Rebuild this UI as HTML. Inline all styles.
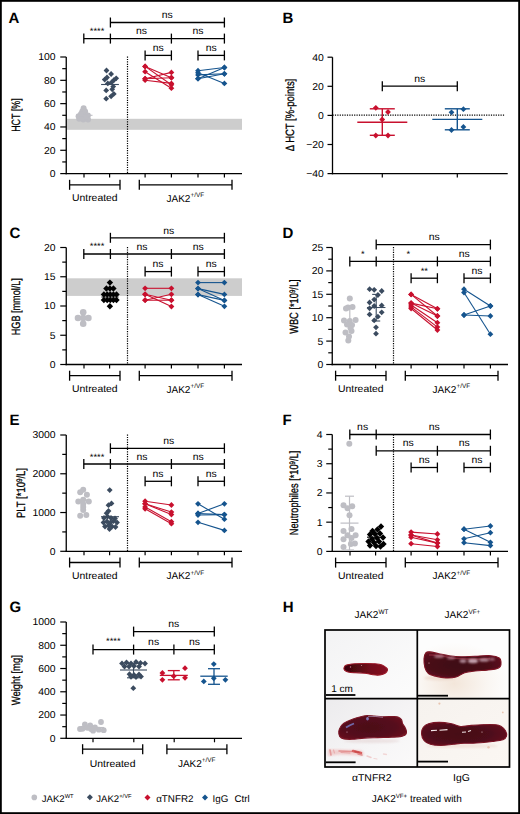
<!DOCTYPE html>
<html><head><meta charset="utf-8"><style>
html,body{margin:0;padding:0;background:#fff;}
body{width:520px;height:814px;overflow:hidden;}
svg{display:block;font-family:"Liberation Sans", sans-serif;text-rendering:geometricPrecision;}
</style></head><body>
<svg width="520" height="814" viewBox="0 0 520 814">
<rect x="0" y="0" width="520" height="814" fill="#fff"/>
<text transform="translate(8.6,22.6) scale(1.0,1)" font-size="15" font-weight="bold" fill="#000" >A</text>
<rect x="66.85" y="118.8" width="175.15" height="11" fill="#cdcdcd"/>
<line x1="66.25" y1="57" x2="66.25" y2="174.25" stroke="#000" stroke-width="1.3" />
<line x1="60.25" y1="173.6" x2="66.25" y2="173.6" stroke="#000" stroke-width="1.2" />
<line x1="60.25" y1="150.28" x2="66.25" y2="150.28" stroke="#000" stroke-width="1.2" />
<line x1="60.25" y1="126.96" x2="66.25" y2="126.96" stroke="#000" stroke-width="1.2" />
<line x1="60.25" y1="103.64" x2="66.25" y2="103.64" stroke="#000" stroke-width="1.2" />
<line x1="60.25" y1="80.32" x2="66.25" y2="80.32" stroke="#000" stroke-width="1.2" />
<line x1="60.25" y1="57" x2="66.25" y2="57" stroke="#000" stroke-width="1.2" />
<line x1="62.25" y1="161.94" x2="66.25" y2="161.94" stroke="#000" stroke-width="1.2" />
<line x1="62.25" y1="138.62" x2="66.25" y2="138.62" stroke="#000" stroke-width="1.2" />
<line x1="62.25" y1="115.3" x2="66.25" y2="115.3" stroke="#000" stroke-width="1.2" />
<line x1="62.25" y1="91.98" x2="66.25" y2="91.98" stroke="#000" stroke-width="1.2" />
<line x1="62.25" y1="68.66" x2="66.25" y2="68.66" stroke="#000" stroke-width="1.2" />
<text transform="translate(55.6,177) scale(1.04,1)" font-size="10" text-anchor="end" fill="#000" >0</text>
<text transform="translate(55.6,153.68) scale(1.04,1)" font-size="10" text-anchor="end" fill="#000" >20</text>
<text transform="translate(55.6,130.36) scale(1.04,1)" font-size="10" text-anchor="end" fill="#000" >40</text>
<text transform="translate(55.6,107.04) scale(1.04,1)" font-size="10" text-anchor="end" fill="#000" >60</text>
<text transform="translate(55.6,83.72) scale(1.04,1)" font-size="10" text-anchor="end" fill="#000" >80</text>
<text transform="translate(55.6,60.4) scale(1.04,1)" font-size="10" text-anchor="end" fill="#000" >100</text>
<line x1="65.6" y1="173.6" x2="242" y2="173.6" stroke="#000" stroke-width="1.3" />
<line x1="84" y1="173.6" x2="84" y2="177.6" stroke="#000" stroke-width="1.2" />
<line x1="109.6" y1="173.6" x2="109.6" y2="177.6" stroke="#000" stroke-width="1.2" />
<line x1="145.1" y1="173.6" x2="145.1" y2="177.6" stroke="#000" stroke-width="1.2" />
<line x1="171.4" y1="173.6" x2="171.4" y2="177.6" stroke="#000" stroke-width="1.2" />
<line x1="198" y1="173.6" x2="198" y2="177.6" stroke="#000" stroke-width="1.2" />
<line x1="224.4" y1="173.6" x2="224.4" y2="177.6" stroke="#000" stroke-width="1.2" />
<line x1="127.5" y1="56.5" x2="127.5" y2="173.6" stroke="#000" stroke-width="1.2" stroke-dasharray="1.2 1.2"/>
<line x1="69.6" y1="184.8" x2="120" y2="184.8" stroke="#000" stroke-width="1.3" />
<line x1="69.6" y1="179.8" x2="69.6" y2="189.8" stroke="#000" stroke-width="1.3" />
<line x1="120" y1="179.8" x2="120" y2="189.8" stroke="#000" stroke-width="1.3" />
<line x1="139.3" y1="184.8" x2="232" y2="184.8" stroke="#000" stroke-width="1.3" />
<line x1="139.3" y1="179.8" x2="139.3" y2="189.8" stroke="#000" stroke-width="1.3" />
<line x1="232" y1="179.8" x2="232" y2="189.8" stroke="#000" stroke-width="1.3" />
<text transform="translate(94.8,201.4) scale(1.04,1)" font-size="10" text-anchor="middle" fill="#000" >Untreated</text>
<text transform="translate(166.5,201.6) scale(1.0,1)" font-size="10">JAK2<tspan font-size="6.4" dy="-4.2">+/VF</tspan></text>
<text transform="translate(19.8,115.1) rotate(-90)" x="0" y="0" font-size="12" text-anchor="middle" textLength="33.4" lengthAdjust="spacingAndGlyphs" stroke="#000" stroke-width="0.28">HCT [%]</text>
<line x1="110.4" y1="22.5" x2="224.4" y2="22.5" stroke="#000" stroke-width="1.3" />
<line x1="110.4" y1="17.5" x2="110.4" y2="27.5" stroke="#000" stroke-width="1.3" />
<line x1="224.4" y1="17.5" x2="224.4" y2="27.5" stroke="#000" stroke-width="1.3" />
<line x1="83.8" y1="38.6" x2="224.4" y2="38.6" stroke="#000" stroke-width="1.3" />
<line x1="83.8" y1="33.6" x2="83.8" y2="43.6" stroke="#000" stroke-width="1.3" />
<line x1="110.4" y1="33.6" x2="110.4" y2="43.6" stroke="#000" stroke-width="1.3" />
<line x1="171.4" y1="33.6" x2="171.4" y2="43.6" stroke="#000" stroke-width="1.3" />
<line x1="224.4" y1="33.6" x2="224.4" y2="43.6" stroke="#000" stroke-width="1.3" />
<line x1="145.1" y1="55.4" x2="171.4" y2="55.4" stroke="#000" stroke-width="1.3" />
<line x1="145.1" y1="50.4" x2="145.1" y2="60.4" stroke="#000" stroke-width="1.3" />
<line x1="171.4" y1="50.4" x2="171.4" y2="60.4" stroke="#000" stroke-width="1.3" />
<line x1="198" y1="55.4" x2="224.4" y2="55.4" stroke="#000" stroke-width="1.3" />
<line x1="198" y1="50.4" x2="198" y2="60.4" stroke="#000" stroke-width="1.3" />
<line x1="224.4" y1="50.4" x2="224.4" y2="60.4" stroke="#000" stroke-width="1.3" />
<text transform="translate(167.3,17.8) scale(1.04,1)" font-size="10" text-anchor="middle" fill="#000" >ns</text>
<text transform="translate(97.1,33.9) scale(1.04,1)" font-size="9" text-anchor="middle" fill="#000" >****</text>
<text transform="translate(141.5,34.2) scale(1.04,1)" font-size="10" text-anchor="middle" fill="#000" >ns</text>
<text transform="translate(198,34.2) scale(1.04,1)" font-size="10" text-anchor="middle" fill="#000" >ns</text>
<text transform="translate(158.3,50.9) scale(1.04,1)" font-size="10" text-anchor="middle" fill="#000" >ns</text>
<text transform="translate(211.2,50.9) scale(1.04,1)" font-size="10" text-anchor="middle" fill="#000" >ns</text>
<circle cx="83.6" cy="108.2" r="3.0" fill="#bebec4"/>
<circle cx="82.3" cy="111.6" r="3.0" fill="#bebec4"/>
<circle cx="85.1" cy="111.4" r="3.0" fill="#bebec4"/>
<circle cx="78.6" cy="116.2" r="3.0" fill="#bebec4"/>
<circle cx="83" cy="115.2" r="3.0" fill="#bebec4"/>
<circle cx="87.9" cy="115.6" r="3.0" fill="#bebec4"/>
<circle cx="79.2" cy="118.8" r="3.0" fill="#bebec4"/>
<circle cx="83.2" cy="119.6" r="3.0" fill="#bebec4"/>
<circle cx="88" cy="119.4" r="3.0" fill="#bebec4"/>
<circle cx="81" cy="114" r="3.0" fill="#bebec4"/>
<circle cx="86" cy="117" r="3.0" fill="#bebec4"/>
<line x1="76" y1="115.3" x2="92.5" y2="115.3" stroke="#bebec4" stroke-width="1.1" />
<path d="M106.5 67.6L109.4 70.5L106.5 73.4L103.6 70.5Z" fill="#3b4b5f"/>
<path d="M111.1 71.1L114 74L111.1 76.9L108.2 74Z" fill="#3b4b5f"/>
<path d="M104.7 76.7L107.6 79.6L104.7 82.5L101.8 79.6Z" fill="#3b4b5f"/>
<path d="M107 74.6L109.9 77.5L107 80.4L104.1 77.5Z" fill="#3b4b5f"/>
<path d="M116.2 75.4L119.1 78.3L116.2 81.2L113.3 78.3Z" fill="#3b4b5f"/>
<path d="M113.8 77.3L116.7 80.2L113.8 83.1L110.9 80.2Z" fill="#3b4b5f"/>
<path d="M111.6 79.4L114.5 82.3L111.6 85.2L108.7 82.3Z" fill="#3b4b5f"/>
<path d="M107.8 80.5L110.7 83.4L107.8 86.3L104.9 83.4Z" fill="#3b4b5f"/>
<path d="M113.2 83.7L116.1 86.6L113.2 89.5L110.3 86.6Z" fill="#3b4b5f"/>
<path d="M106.2 87.5L109.1 90.4L106.2 93.3L103.3 90.4Z" fill="#3b4b5f"/>
<path d="M112.2 86.4L115.1 89.3L112.2 92.2L109.3 89.3Z" fill="#3b4b5f"/>
<path d="M113.8 91L116.7 93.9L113.8 96.8L110.9 93.9Z" fill="#3b4b5f"/>
<path d="M111.1 93.4L114 96.3L111.1 99.2L108.2 96.3Z" fill="#3b4b5f"/>
<path d="M106.2 95.8L109.1 98.7L106.2 101.6L103.3 98.7Z" fill="#3b4b5f"/>
<line x1="101.1" y1="84.5" x2="118.9" y2="84.5" stroke="#3b4b5f" stroke-width="1.1" />
<line x1="145.1" y1="66.4" x2="171.4" y2="77.7" stroke="#c8102e" stroke-width="1.1" />
<line x1="145.1" y1="71.7" x2="171.4" y2="88.2" stroke="#c8102e" stroke-width="1.1" />
<line x1="145.1" y1="78.7" x2="171.4" y2="72.4" stroke="#c8102e" stroke-width="1.1" />
<line x1="145.1" y1="80.2" x2="171.4" y2="83.4" stroke="#c8102e" stroke-width="1.1" />
<line x1="145.1" y1="66.4" x2="171.4" y2="84.8" stroke="#c8102e" stroke-width="1.1" />
<line x1="145.1" y1="78.7" x2="171.4" y2="77.7" stroke="#c8102e" stroke-width="1.1" />
<path d="M145.1 63.5L148 66.4L145.1 69.3L142.2 66.4Z" fill="#c8102e"/>
<path d="M171.4 74.8L174.3 77.7L171.4 80.6L168.5 77.7Z" fill="#c8102e"/>
<path d="M145.1 68.8L148 71.7L145.1 74.6L142.2 71.7Z" fill="#c8102e"/>
<path d="M171.4 85.3L174.3 88.2L171.4 91.1L168.5 88.2Z" fill="#c8102e"/>
<path d="M145.1 75.8L148 78.7L145.1 81.6L142.2 78.7Z" fill="#c8102e"/>
<path d="M171.4 69.5L174.3 72.4L171.4 75.3L168.5 72.4Z" fill="#c8102e"/>
<path d="M145.1 77.3L148 80.2L145.1 83.1L142.2 80.2Z" fill="#c8102e"/>
<path d="M171.4 80.5L174.3 83.4L171.4 86.3L168.5 83.4Z" fill="#c8102e"/>
<path d="M145.1 63.5L148 66.4L145.1 69.3L142.2 66.4Z" fill="#c8102e"/>
<path d="M171.4 81.9L174.3 84.8L171.4 87.7L168.5 84.8Z" fill="#c8102e"/>
<path d="M145.1 75.8L148 78.7L145.1 81.6L142.2 78.7Z" fill="#c8102e"/>
<path d="M171.4 74.8L174.3 77.7L171.4 80.6L168.5 77.7Z" fill="#c8102e"/>
<line x1="198" y1="70.7" x2="224.4" y2="67.5" stroke="#15548e" stroke-width="1.1" />
<line x1="198" y1="72.8" x2="224.4" y2="83.4" stroke="#15548e" stroke-width="1.1" />
<line x1="198" y1="74.9" x2="224.4" y2="73.8" stroke="#15548e" stroke-width="1.1" />
<line x1="198" y1="78.7" x2="224.4" y2="67.5" stroke="#15548e" stroke-width="1.1" />
<line x1="198" y1="78.7" x2="224.4" y2="73.8" stroke="#15548e" stroke-width="1.1" />
<path d="M198 67.8L200.9 70.7L198 73.6L195.1 70.7Z" fill="#15548e"/>
<path d="M224.4 64.6L227.3 67.5L224.4 70.4L221.5 67.5Z" fill="#15548e"/>
<path d="M198 69.9L200.9 72.8L198 75.7L195.1 72.8Z" fill="#15548e"/>
<path d="M224.4 80.5L227.3 83.4L224.4 86.3L221.5 83.4Z" fill="#15548e"/>
<path d="M198 72L200.9 74.9L198 77.8L195.1 74.9Z" fill="#15548e"/>
<path d="M224.4 70.9L227.3 73.8L224.4 76.7L221.5 73.8Z" fill="#15548e"/>
<path d="M198 75.8L200.9 78.7L198 81.6L195.1 78.7Z" fill="#15548e"/>
<path d="M224.4 64.6L227.3 67.5L224.4 70.4L221.5 67.5Z" fill="#15548e"/>
<path d="M198 75.8L200.9 78.7L198 81.6L195.1 78.7Z" fill="#15548e"/>
<path d="M224.4 70.9L227.3 73.8L224.4 76.7L221.5 73.8Z" fill="#15548e"/>
<text transform="translate(282.6,22.6) scale(1.0,1)" font-size="15" font-weight="bold" fill="#000" >B</text>
<line x1="332.5" y1="57.2" x2="332.5" y2="174.25" stroke="#000" stroke-width="1.3" />
<line x1="327.5" y1="173.6" x2="332.5" y2="173.6" stroke="#000" stroke-width="1.2" />
<line x1="327.5" y1="144.5" x2="332.5" y2="144.5" stroke="#000" stroke-width="1.2" />
<line x1="327.5" y1="115.4" x2="332.5" y2="115.4" stroke="#000" stroke-width="1.2" />
<line x1="327.5" y1="86.3" x2="332.5" y2="86.3" stroke="#000" stroke-width="1.2" />
<line x1="327.5" y1="57.2" x2="332.5" y2="57.2" stroke="#000" stroke-width="1.2" />
<text transform="translate(323.8,177) scale(1.04,1)" font-size="10" text-anchor="end" fill="#000" >−40</text>
<text transform="translate(323.8,147.9) scale(1.04,1)" font-size="10" text-anchor="end" fill="#000" >−20</text>
<text transform="translate(323.8,118.8) scale(1.04,1)" font-size="10" text-anchor="end" fill="#000" >0</text>
<text transform="translate(323.8,89.7) scale(1.04,1)" font-size="10" text-anchor="end" fill="#000" >20</text>
<text transform="translate(323.8,60.6) scale(1.04,1)" font-size="10" text-anchor="end" fill="#000" >40</text>
<line x1="331.85" y1="173.6" x2="507.7" y2="173.6" stroke="#000" stroke-width="1.3" />
<line x1="382.3" y1="173.6" x2="382.3" y2="177.6" stroke="#000" stroke-width="1.2" />
<line x1="457.3" y1="173.6" x2="457.3" y2="177.6" stroke="#000" stroke-width="1.2" />
<line x1="332.5" y1="115.2" x2="505" y2="115.2" stroke="#000" stroke-width="1.2" stroke-dasharray="1.2 1.2"/>
<text transform="translate(293.8,115) rotate(-90)" x="0" y="0" font-size="12" text-anchor="middle" textLength="72.5" lengthAdjust="spacingAndGlyphs" stroke="#000" stroke-width="0.28">Δ HCT [%-points]</text>
<line x1="382.3" y1="86.2" x2="457.3" y2="86.2" stroke="#000" stroke-width="1.3" />
<line x1="382.3" y1="81.2" x2="382.3" y2="91.2" stroke="#000" stroke-width="1.3" />
<line x1="457.3" y1="81.2" x2="457.3" y2="91.2" stroke="#000" stroke-width="1.3" />
<text transform="translate(419.8,81.6) scale(1.04,1)" font-size="10" text-anchor="middle" fill="#000" >ns</text>
<line x1="357.3" y1="122.2" x2="407.3" y2="122.2" stroke="#c8102e" stroke-width="1.4" />
<line x1="382.3" y1="108.8" x2="382.3" y2="135.3" stroke="#c8102e" stroke-width="1.4" />
<line x1="369.8" y1="108.8" x2="394.8" y2="108.8" stroke="#c8102e" stroke-width="1.4" />
<line x1="369.8" y1="135.3" x2="394.8" y2="135.3" stroke="#c8102e" stroke-width="1.4" />
<line x1="432.3" y1="119.4" x2="482.3" y2="119.4" stroke="#15548e" stroke-width="1.4" />
<line x1="457.3" y1="108.8" x2="457.3" y2="129.8" stroke="#15548e" stroke-width="1.4" />
<line x1="444.8" y1="108.8" x2="469.8" y2="108.8" stroke="#15548e" stroke-width="1.4" />
<line x1="444.8" y1="129.8" x2="469.8" y2="129.8" stroke="#15548e" stroke-width="1.4" />
<path d="M375.8 104.9L378.7 107.8L375.8 110.7L372.9 107.8Z" fill="#c8102e"/>
<path d="M388 109.1L390.9 112L388 114.9L385.1 112Z" fill="#c8102e"/>
<path d="M382.2 116.6L385.1 119.5L382.2 122.4L379.3 119.5Z" fill="#c8102e"/>
<path d="M375.8 132.6L378.7 135.5L375.8 138.4L372.9 135.5Z" fill="#c8102e"/>
<path d="M388 132.6L390.9 135.5L388 138.4L385.1 135.5Z" fill="#c8102e"/>
<path d="M463.4 106.3L466.3 109.2L463.4 112.1L460.5 109.2Z" fill="#15548e"/>
<path d="M451.5 109.4L454.4 112.3L451.5 115.2L448.6 112.3Z" fill="#15548e"/>
<path d="M463.4 124L466.3 126.9L463.4 129.8L460.5 126.9Z" fill="#15548e"/>
<path d="M451.5 127.1L454.4 130L451.5 132.9L448.6 130Z" fill="#15548e"/>
<text transform="translate(9.6,238.2) scale(1.0,1)" font-size="15" font-weight="bold" fill="#000" >C</text>
<rect x="66.85" y="278.3" width="175.15" height="17.6" fill="#cdcdcd"/>
<line x1="66.25" y1="247.5" x2="66.25" y2="365.15" stroke="#000" stroke-width="1.3" />
<line x1="60.25" y1="364.5" x2="66.25" y2="364.5" stroke="#000" stroke-width="1.2" />
<line x1="60.25" y1="335.25" x2="66.25" y2="335.25" stroke="#000" stroke-width="1.2" />
<line x1="60.25" y1="306" x2="66.25" y2="306" stroke="#000" stroke-width="1.2" />
<line x1="60.25" y1="276.75" x2="66.25" y2="276.75" stroke="#000" stroke-width="1.2" />
<line x1="60.25" y1="247.5" x2="66.25" y2="247.5" stroke="#000" stroke-width="1.2" />
<line x1="62.25" y1="349.88" x2="66.25" y2="349.88" stroke="#000" stroke-width="1.2" />
<line x1="62.25" y1="320.62" x2="66.25" y2="320.62" stroke="#000" stroke-width="1.2" />
<line x1="62.25" y1="291.38" x2="66.25" y2="291.38" stroke="#000" stroke-width="1.2" />
<line x1="62.25" y1="262.12" x2="66.25" y2="262.12" stroke="#000" stroke-width="1.2" />
<text transform="translate(55.6,367.9) scale(1.04,1)" font-size="10" text-anchor="end" fill="#000" >0</text>
<text transform="translate(55.6,338.65) scale(1.04,1)" font-size="10" text-anchor="end" fill="#000" >5</text>
<text transform="translate(55.6,309.4) scale(1.04,1)" font-size="10" text-anchor="end" fill="#000" >10</text>
<text transform="translate(55.6,280.15) scale(1.04,1)" font-size="10" text-anchor="end" fill="#000" >15</text>
<text transform="translate(55.6,250.9) scale(1.04,1)" font-size="10" text-anchor="end" fill="#000" >20</text>
<line x1="65.6" y1="364.5" x2="242" y2="364.5" stroke="#000" stroke-width="1.3" />
<line x1="84" y1="364.5" x2="84" y2="368.5" stroke="#000" stroke-width="1.2" />
<line x1="109.6" y1="364.5" x2="109.6" y2="368.5" stroke="#000" stroke-width="1.2" />
<line x1="145.1" y1="364.5" x2="145.1" y2="368.5" stroke="#000" stroke-width="1.2" />
<line x1="171.4" y1="364.5" x2="171.4" y2="368.5" stroke="#000" stroke-width="1.2" />
<line x1="198" y1="364.5" x2="198" y2="368.5" stroke="#000" stroke-width="1.2" />
<line x1="224.4" y1="364.5" x2="224.4" y2="368.5" stroke="#000" stroke-width="1.2" />
<line x1="127.5" y1="247" x2="127.5" y2="364.5" stroke="#000" stroke-width="1.2" stroke-dasharray="1.2 1.2"/>
<line x1="69.6" y1="375.7" x2="120" y2="375.7" stroke="#000" stroke-width="1.3" />
<line x1="69.6" y1="370.7" x2="69.6" y2="380.7" stroke="#000" stroke-width="1.3" />
<line x1="120" y1="370.7" x2="120" y2="380.7" stroke="#000" stroke-width="1.3" />
<line x1="139.3" y1="375.7" x2="232" y2="375.7" stroke="#000" stroke-width="1.3" />
<line x1="139.3" y1="370.7" x2="139.3" y2="380.7" stroke="#000" stroke-width="1.3" />
<line x1="232" y1="370.7" x2="232" y2="380.7" stroke="#000" stroke-width="1.3" />
<text transform="translate(94.8,392.3) scale(1.04,1)" font-size="10" text-anchor="middle" fill="#000" >Untreated</text>
<text transform="translate(166.5,392.5) scale(1.0,1)" font-size="10">JAK2<tspan font-size="6.4" dy="-4.2">+/VF</tspan></text>
<text transform="translate(19.9,306.7) rotate(-90)" x="0" y="0" font-size="12" text-anchor="middle" textLength="57" lengthAdjust="spacingAndGlyphs" stroke="#000" stroke-width="0.28">HGB [mmol/L]</text>
<line x1="110.4" y1="237.8" x2="224.4" y2="237.8" stroke="#000" stroke-width="1.3" />
<line x1="110.4" y1="232.8" x2="110.4" y2="242.8" stroke="#000" stroke-width="1.3" />
<line x1="224.4" y1="232.8" x2="224.4" y2="242.8" stroke="#000" stroke-width="1.3" />
<line x1="83.8" y1="254" x2="224.4" y2="254" stroke="#000" stroke-width="1.3" />
<line x1="83.8" y1="249" x2="83.8" y2="259" stroke="#000" stroke-width="1.3" />
<line x1="110.4" y1="249" x2="110.4" y2="259" stroke="#000" stroke-width="1.3" />
<line x1="171.4" y1="249" x2="171.4" y2="259" stroke="#000" stroke-width="1.3" />
<line x1="224.4" y1="249" x2="224.4" y2="259" stroke="#000" stroke-width="1.3" />
<line x1="145.1" y1="271.6" x2="171.4" y2="271.6" stroke="#000" stroke-width="1.3" />
<line x1="145.1" y1="266.6" x2="145.1" y2="276.6" stroke="#000" stroke-width="1.3" />
<line x1="171.4" y1="266.6" x2="171.4" y2="276.6" stroke="#000" stroke-width="1.3" />
<line x1="198" y1="271.6" x2="224.4" y2="271.6" stroke="#000" stroke-width="1.3" />
<line x1="198" y1="266.6" x2="198" y2="276.6" stroke="#000" stroke-width="1.3" />
<line x1="224.4" y1="266.6" x2="224.4" y2="276.6" stroke="#000" stroke-width="1.3" />
<text transform="translate(168.7,233.5) scale(1.04,1)" font-size="10" text-anchor="middle" fill="#000" >ns</text>
<text transform="translate(97.1,249.3) scale(1.04,1)" font-size="9" text-anchor="middle" fill="#000" >****</text>
<text transform="translate(142,249.6) scale(1.04,1)" font-size="10" text-anchor="middle" fill="#000" >ns</text>
<text transform="translate(198.2,249.6) scale(1.04,1)" font-size="10" text-anchor="middle" fill="#000" >ns</text>
<text transform="translate(158,267.3) scale(1.04,1)" font-size="10" text-anchor="middle" fill="#000" >ns</text>
<text transform="translate(211.2,267.3) scale(1.04,1)" font-size="10" text-anchor="middle" fill="#000" >ns</text>
<circle cx="83.2" cy="312.3" r="3.3" fill="#bebec4"/>
<circle cx="78" cy="318" r="3.3" fill="#bebec4"/>
<circle cx="83.2" cy="318" r="3.3" fill="#bebec4"/>
<circle cx="88.4" cy="318" r="3.3" fill="#bebec4"/>
<circle cx="83.2" cy="323.7" r="3.3" fill="#bebec4"/>
<path d="M109.9 279.4L113.1 282.6L109.9 285.8L106.7 282.6Z" fill="#000000"/>
<path d="M106.4 285.3L109.6 288.5L106.4 291.7L103.2 288.5Z" fill="#000000"/>
<path d="M113.4 285.3L116.6 288.5L113.4 291.7L110.2 288.5Z" fill="#000000"/>
<path d="M109.9 285.3L113.1 288.5L109.9 291.7L106.7 288.5Z" fill="#000000"/>
<path d="M103.9 291.2L107.1 294.4L103.9 297.6L100.7 294.4Z" fill="#000000"/>
<path d="M107.2 291.2L110.4 294.4L107.2 297.6L104 294.4Z" fill="#000000"/>
<path d="M110.3 291.2L113.5 294.4L110.3 297.6L107.1 294.4Z" fill="#000000"/>
<path d="M113.4 291.2L116.6 294.4L113.4 297.6L110.2 294.4Z" fill="#000000"/>
<path d="M116.5 291.2L119.7 294.4L116.5 297.6L113.3 294.4Z" fill="#000000"/>
<path d="M103.9 296.8L107.1 300L103.9 303.2L100.7 300Z" fill="#000000"/>
<path d="M107.2 296.8L110.4 300L107.2 303.2L104 300Z" fill="#000000"/>
<path d="M110.3 296.8L113.5 300L110.3 303.2L107.1 300Z" fill="#000000"/>
<path d="M113.4 296.8L116.6 300L113.4 303.2L110.2 300Z" fill="#000000"/>
<path d="M116.5 296.8L119.7 300L116.5 303.2L113.3 300Z" fill="#000000"/>
<path d="M109.9 303L113.1 306.2L109.9 309.4L106.7 306.2Z" fill="#000000"/>
<line x1="101.5" y1="297" x2="118.5" y2="297" stroke="#000" stroke-width="1" />
<line x1="145.1" y1="288.3" x2="171.4" y2="288.3" stroke="#c8102e" stroke-width="1.1" />
<line x1="145.1" y1="294.3" x2="171.4" y2="306.5" stroke="#c8102e" stroke-width="1.1" />
<line x1="145.1" y1="300.2" x2="171.4" y2="294.3" stroke="#c8102e" stroke-width="1.1" />
<line x1="145.1" y1="300.2" x2="171.4" y2="300.2" stroke="#c8102e" stroke-width="1.1" />
<line x1="145.1" y1="294.3" x2="171.4" y2="300.2" stroke="#c8102e" stroke-width="1.1" />
<path d="M145.1 285.4L148 288.3L145.1 291.2L142.2 288.3Z" fill="#c8102e"/>
<path d="M171.4 285.4L174.3 288.3L171.4 291.2L168.5 288.3Z" fill="#c8102e"/>
<path d="M145.1 291.4L148 294.3L145.1 297.2L142.2 294.3Z" fill="#c8102e"/>
<path d="M171.4 303.6L174.3 306.5L171.4 309.4L168.5 306.5Z" fill="#c8102e"/>
<path d="M145.1 297.3L148 300.2L145.1 303.1L142.2 300.2Z" fill="#c8102e"/>
<path d="M171.4 291.4L174.3 294.3L171.4 297.2L168.5 294.3Z" fill="#c8102e"/>
<path d="M145.1 297.3L148 300.2L145.1 303.1L142.2 300.2Z" fill="#c8102e"/>
<path d="M171.4 297.3L174.3 300.2L171.4 303.1L168.5 300.2Z" fill="#c8102e"/>
<path d="M145.1 291.4L148 294.3L145.1 297.2L142.2 294.3Z" fill="#c8102e"/>
<path d="M171.4 297.3L174.3 300.2L171.4 303.1L168.5 300.2Z" fill="#c8102e"/>
<line x1="198" y1="282.6" x2="224.4" y2="282.6" stroke="#15548e" stroke-width="1.1" />
<line x1="198" y1="288.6" x2="224.4" y2="294.4" stroke="#15548e" stroke-width="1.1" />
<line x1="198" y1="294.6" x2="224.4" y2="300.4" stroke="#15548e" stroke-width="1.1" />
<line x1="198" y1="294.6" x2="224.4" y2="306.3" stroke="#15548e" stroke-width="1.1" />
<line x1="198" y1="288.6" x2="224.4" y2="300.4" stroke="#15548e" stroke-width="1.1" />
<path d="M198 279.7L200.9 282.6L198 285.5L195.1 282.6Z" fill="#15548e"/>
<path d="M224.4 279.7L227.3 282.6L224.4 285.5L221.5 282.6Z" fill="#15548e"/>
<path d="M198 285.7L200.9 288.6L198 291.5L195.1 288.6Z" fill="#15548e"/>
<path d="M224.4 291.5L227.3 294.4L224.4 297.3L221.5 294.4Z" fill="#15548e"/>
<path d="M198 291.7L200.9 294.6L198 297.5L195.1 294.6Z" fill="#15548e"/>
<path d="M224.4 297.5L227.3 300.4L224.4 303.3L221.5 300.4Z" fill="#15548e"/>
<path d="M198 291.7L200.9 294.6L198 297.5L195.1 294.6Z" fill="#15548e"/>
<path d="M224.4 303.4L227.3 306.3L224.4 309.2L221.5 306.3Z" fill="#15548e"/>
<path d="M198 285.7L200.9 288.6L198 291.5L195.1 288.6Z" fill="#15548e"/>
<path d="M224.4 297.5L227.3 300.4L224.4 303.3L221.5 300.4Z" fill="#15548e"/>
<text transform="translate(282.6,238.2) scale(1.0,1)" font-size="15" font-weight="bold" fill="#000" >D</text>
<line x1="332.25" y1="247.5" x2="332.25" y2="365.15" stroke="#000" stroke-width="1.3" />
<line x1="326.25" y1="364.5" x2="332.25" y2="364.5" stroke="#000" stroke-width="1.2" />
<line x1="326.25" y1="341.1" x2="332.25" y2="341.1" stroke="#000" stroke-width="1.2" />
<line x1="326.25" y1="317.7" x2="332.25" y2="317.7" stroke="#000" stroke-width="1.2" />
<line x1="326.25" y1="294.3" x2="332.25" y2="294.3" stroke="#000" stroke-width="1.2" />
<line x1="326.25" y1="270.9" x2="332.25" y2="270.9" stroke="#000" stroke-width="1.2" />
<line x1="326.25" y1="247.5" x2="332.25" y2="247.5" stroke="#000" stroke-width="1.2" />
<line x1="328.25" y1="352.8" x2="332.25" y2="352.8" stroke="#000" stroke-width="1.2" />
<line x1="328.25" y1="329.4" x2="332.25" y2="329.4" stroke="#000" stroke-width="1.2" />
<line x1="328.25" y1="306" x2="332.25" y2="306" stroke="#000" stroke-width="1.2" />
<line x1="328.25" y1="282.6" x2="332.25" y2="282.6" stroke="#000" stroke-width="1.2" />
<line x1="328.25" y1="259.2" x2="332.25" y2="259.2" stroke="#000" stroke-width="1.2" />
<text transform="translate(323.2,367.9) scale(1.04,1)" font-size="10" text-anchor="end" fill="#000" >0</text>
<text transform="translate(323.2,344.5) scale(1.04,1)" font-size="10" text-anchor="end" fill="#000" >5</text>
<text transform="translate(323.2,321.1) scale(1.04,1)" font-size="10" text-anchor="end" fill="#000" >10</text>
<text transform="translate(323.2,297.7) scale(1.04,1)" font-size="10" text-anchor="end" fill="#000" >15</text>
<text transform="translate(323.2,274.3) scale(1.04,1)" font-size="10" text-anchor="end" fill="#000" >20</text>
<text transform="translate(323.2,250.9) scale(1.04,1)" font-size="10" text-anchor="end" fill="#000" >25</text>
<line x1="331.6" y1="364.5" x2="508" y2="364.5" stroke="#000" stroke-width="1.3" />
<line x1="350" y1="364.5" x2="350" y2="368.5" stroke="#000" stroke-width="1.2" />
<line x1="375.6" y1="364.5" x2="375.6" y2="368.5" stroke="#000" stroke-width="1.2" />
<line x1="411.1" y1="364.5" x2="411.1" y2="368.5" stroke="#000" stroke-width="1.2" />
<line x1="437.4" y1="364.5" x2="437.4" y2="368.5" stroke="#000" stroke-width="1.2" />
<line x1="464" y1="364.5" x2="464" y2="368.5" stroke="#000" stroke-width="1.2" />
<line x1="490.4" y1="364.5" x2="490.4" y2="368.5" stroke="#000" stroke-width="1.2" />
<line x1="393.5" y1="247" x2="393.5" y2="364.5" stroke="#000" stroke-width="1.2" stroke-dasharray="1.2 1.2"/>
<line x1="335.6" y1="375.7" x2="386" y2="375.7" stroke="#000" stroke-width="1.3" />
<line x1="335.6" y1="370.7" x2="335.6" y2="380.7" stroke="#000" stroke-width="1.3" />
<line x1="386" y1="370.7" x2="386" y2="380.7" stroke="#000" stroke-width="1.3" />
<line x1="405.3" y1="375.7" x2="498" y2="375.7" stroke="#000" stroke-width="1.3" />
<line x1="405.3" y1="370.7" x2="405.3" y2="380.7" stroke="#000" stroke-width="1.3" />
<line x1="498" y1="370.7" x2="498" y2="380.7" stroke="#000" stroke-width="1.3" />
<text transform="translate(360.8,392.3) scale(1.04,1)" font-size="10" text-anchor="middle" fill="#000" >Untreated</text>
<text transform="translate(432.5,392.5) scale(1.0,1)" font-size="10">JAK2<tspan font-size="6.4" dy="-4.2">+/VF</tspan></text>
<text transform="translate(297.7,306.6) rotate(-90)" x="0" y="0" font-size="12" text-anchor="middle" textLength="54.5" lengthAdjust="spacingAndGlyphs" stroke="#000" stroke-width="0.28">WBC [*10<tspan font-size="8" dy="-3">9</tspan><tspan dy="3">/L]</tspan></text>
<line x1="376.2" y1="244.6" x2="490.4" y2="244.6" stroke="#000" stroke-width="1.3" />
<line x1="376.2" y1="239.6" x2="376.2" y2="249.6" stroke="#000" stroke-width="1.3" />
<line x1="490.4" y1="239.6" x2="490.4" y2="249.6" stroke="#000" stroke-width="1.3" />
<line x1="349.8" y1="261.4" x2="490.4" y2="261.4" stroke="#000" stroke-width="1.3" />
<line x1="349.8" y1="256.4" x2="349.8" y2="266.4" stroke="#000" stroke-width="1.3" />
<line x1="376.2" y1="256.4" x2="376.2" y2="266.4" stroke="#000" stroke-width="1.3" />
<line x1="437.4" y1="256.4" x2="437.4" y2="266.4" stroke="#000" stroke-width="1.3" />
<line x1="490.4" y1="256.4" x2="490.4" y2="266.4" stroke="#000" stroke-width="1.3" />
<line x1="411.1" y1="278.2" x2="437.4" y2="278.2" stroke="#000" stroke-width="1.3" />
<line x1="411.1" y1="273.2" x2="411.1" y2="283.2" stroke="#000" stroke-width="1.3" />
<line x1="437.4" y1="273.2" x2="437.4" y2="283.2" stroke="#000" stroke-width="1.3" />
<line x1="464" y1="278.2" x2="490.4" y2="278.2" stroke="#000" stroke-width="1.3" />
<line x1="464" y1="273.2" x2="464" y2="283.2" stroke="#000" stroke-width="1.3" />
<line x1="490.4" y1="273.2" x2="490.4" y2="283.2" stroke="#000" stroke-width="1.3" />
<text transform="translate(434.3,240.4) scale(1.04,1)" font-size="10" text-anchor="middle" fill="#000" >ns</text>
<text transform="translate(362.7,256.5) scale(1.04,1)" font-size="9" text-anchor="middle" fill="#000" >*</text>
<text transform="translate(408.3,256.5) scale(1.04,1)" font-size="9" text-anchor="middle" fill="#000" >*</text>
<text transform="translate(464.3,256.9) scale(1.04,1)" font-size="10" text-anchor="middle" fill="#000" >ns</text>
<text transform="translate(424.3,273.7) scale(1.04,1)" font-size="9" text-anchor="middle" fill="#000" >**</text>
<text transform="translate(477,273.8) scale(1.04,1)" font-size="10" text-anchor="middle" fill="#000" >ns</text>
<circle cx="349.8" cy="298.5" r="3.0" fill="#bebec4"/>
<circle cx="348" cy="307.5" r="3.0" fill="#bebec4"/>
<circle cx="352.5" cy="307" r="3.0" fill="#bebec4"/>
<circle cx="346" cy="308.5" r="3.0" fill="#bebec4"/>
<circle cx="344" cy="320.5" r="3.0" fill="#bebec4"/>
<circle cx="349.8" cy="321" r="3.0" fill="#bebec4"/>
<circle cx="355.6" cy="320" r="3.0" fill="#bebec4"/>
<circle cx="347" cy="324.5" r="3.0" fill="#bebec4"/>
<circle cx="352" cy="325" r="3.0" fill="#bebec4"/>
<circle cx="345.5" cy="332.5" r="3.0" fill="#bebec4"/>
<circle cx="351.5" cy="331" r="3.0" fill="#bebec4"/>
<circle cx="349" cy="336.5" r="3.0" fill="#bebec4"/>
<circle cx="348.3" cy="340.6" r="3.0" fill="#bebec4"/>
<circle cx="350.5" cy="328" r="3.0" fill="#bebec4"/>
<line x1="349.8" y1="318.5" x2="349.8" y2="318.5" stroke="#bebec4" stroke-width="1.2" />
<line x1="349.8" y1="307.7" x2="349.8" y2="329" stroke="#bebec4" stroke-width="1.2" />
<line x1="349.8" y1="307.7" x2="349.8" y2="307.7" stroke="#bebec4" stroke-width="1.2" />
<line x1="349.8" y1="329" x2="349.8" y2="329" stroke="#bebec4" stroke-width="1.2" />
<path d="M369.6 286.3L372.5 289.2L369.6 292.1L366.7 289.2Z" fill="#3b4b5f"/>
<path d="M374.2 286.9L377.1 289.8L374.2 292.7L371.3 289.8Z" fill="#3b4b5f"/>
<path d="M381.7 288.1L384.6 291L381.7 293.9L378.8 291Z" fill="#3b4b5f"/>
<path d="M377.9 292.1L380.8 295L377.9 297.9L375 295Z" fill="#3b4b5f"/>
<path d="M374.2 296.7L377.1 299.6L374.2 302.5L371.3 299.6Z" fill="#3b4b5f"/>
<path d="M369.6 299.6L372.5 302.5L369.6 305.4L366.7 302.5Z" fill="#3b4b5f"/>
<path d="M374.2 303.1L377.1 306L374.2 308.9L371.3 306Z" fill="#3b4b5f"/>
<path d="M381.7 302.5L384.6 305.4L381.7 308.3L378.8 305.4Z" fill="#3b4b5f"/>
<path d="M369.6 305.4L372.5 308.3L369.6 311.2L366.7 308.3Z" fill="#3b4b5f"/>
<path d="M369.6 311.5L372.5 314.4L369.6 317.3L366.7 314.4Z" fill="#3b4b5f"/>
<path d="M381.7 309.4L384.6 312.3L381.7 315.2L378.8 312.3Z" fill="#3b4b5f"/>
<path d="M377.9 313.8L380.8 316.7L377.9 319.6L375 316.7Z" fill="#3b4b5f"/>
<path d="M374.2 317.5L377.1 320.4L374.2 323.3L371.3 320.4Z" fill="#3b4b5f"/>
<path d="M376 324.4L378.9 327.3L376 330.2L373.1 327.3Z" fill="#3b4b5f"/>
<path d="M376 330.8L378.9 333.7L376 336.6L373.1 333.7Z" fill="#3b4b5f"/>
<line x1="366.95" y1="307.5" x2="385.45" y2="307.5" stroke="#3b4b5f" stroke-width="1.1" />
<line x1="376.2" y1="294.4" x2="376.2" y2="321" stroke="#3b4b5f" stroke-width="1.1" />
<line x1="372.2" y1="294.4" x2="380.2" y2="294.4" stroke="#3b4b5f" stroke-width="1.1" />
<line x1="372.2" y1="321" x2="380.2" y2="321" stroke="#3b4b5f" stroke-width="1.1" />
<line x1="411.1" y1="294.4" x2="437.4" y2="308.8" stroke="#c8102e" stroke-width="1.1" />
<line x1="411.1" y1="294.4" x2="437.4" y2="316" stroke="#c8102e" stroke-width="1.1" />
<line x1="411.1" y1="303.1" x2="437.4" y2="316" stroke="#c8102e" stroke-width="1.1" />
<line x1="411.1" y1="305" x2="437.4" y2="322.7" stroke="#c8102e" stroke-width="1.1" />
<line x1="411.1" y1="306.9" x2="437.4" y2="327.1" stroke="#c8102e" stroke-width="1.1" />
<line x1="411.1" y1="308.5" x2="437.4" y2="330" stroke="#c8102e" stroke-width="1.1" />
<line x1="411.1" y1="303.1" x2="437.4" y2="308.8" stroke="#c8102e" stroke-width="1.1" />
<path d="M411.1 291.5L414 294.4L411.1 297.3L408.2 294.4Z" fill="#c8102e"/>
<path d="M437.4 305.9L440.3 308.8L437.4 311.7L434.5 308.8Z" fill="#c8102e"/>
<path d="M411.1 291.5L414 294.4L411.1 297.3L408.2 294.4Z" fill="#c8102e"/>
<path d="M437.4 313.1L440.3 316L437.4 318.9L434.5 316Z" fill="#c8102e"/>
<path d="M411.1 300.2L414 303.1L411.1 306L408.2 303.1Z" fill="#c8102e"/>
<path d="M437.4 313.1L440.3 316L437.4 318.9L434.5 316Z" fill="#c8102e"/>
<path d="M411.1 302.1L414 305L411.1 307.9L408.2 305Z" fill="#c8102e"/>
<path d="M437.4 319.8L440.3 322.7L437.4 325.6L434.5 322.7Z" fill="#c8102e"/>
<path d="M411.1 304L414 306.9L411.1 309.8L408.2 306.9Z" fill="#c8102e"/>
<path d="M437.4 324.2L440.3 327.1L437.4 330L434.5 327.1Z" fill="#c8102e"/>
<path d="M411.1 305.6L414 308.5L411.1 311.4L408.2 308.5Z" fill="#c8102e"/>
<path d="M437.4 327.1L440.3 330L437.4 332.9L434.5 330Z" fill="#c8102e"/>
<path d="M411.1 300.2L414 303.1L411.1 306L408.2 303.1Z" fill="#c8102e"/>
<path d="M437.4 305.9L440.3 308.8L437.4 311.7L434.5 308.8Z" fill="#c8102e"/>
<line x1="464" y1="289.2" x2="490.4" y2="306" stroke="#15548e" stroke-width="1.1" />
<line x1="464" y1="292.5" x2="490.4" y2="334.2" stroke="#15548e" stroke-width="1.1" />
<line x1="464" y1="315" x2="490.4" y2="306" stroke="#15548e" stroke-width="1.1" />
<line x1="464" y1="315" x2="490.4" y2="316" stroke="#15548e" stroke-width="1.1" />
<path d="M464 286.3L466.9 289.2L464 292.1L461.1 289.2Z" fill="#15548e"/>
<path d="M490.4 303.1L493.3 306L490.4 308.9L487.5 306Z" fill="#15548e"/>
<path d="M464 289.6L466.9 292.5L464 295.4L461.1 292.5Z" fill="#15548e"/>
<path d="M490.4 331.3L493.3 334.2L490.4 337.1L487.5 334.2Z" fill="#15548e"/>
<path d="M464 312.1L466.9 315L464 317.9L461.1 315Z" fill="#15548e"/>
<path d="M490.4 303.1L493.3 306L490.4 308.9L487.5 306Z" fill="#15548e"/>
<path d="M464 312.1L466.9 315L464 317.9L461.1 315Z" fill="#15548e"/>
<path d="M490.4 313.1L493.3 316L490.4 318.9L487.5 316Z" fill="#15548e"/>
<text transform="translate(9.6,425.2) scale(1.0,1)" font-size="15" font-weight="bold" fill="#000" >E</text>
<line x1="66.25" y1="435" x2="66.25" y2="551.95" stroke="#000" stroke-width="1.3" />
<line x1="60.25" y1="551.3" x2="66.25" y2="551.3" stroke="#000" stroke-width="1.2" />
<line x1="60.25" y1="512.53" x2="66.25" y2="512.53" stroke="#000" stroke-width="1.2" />
<line x1="60.25" y1="473.77" x2="66.25" y2="473.77" stroke="#000" stroke-width="1.2" />
<line x1="60.25" y1="435" x2="66.25" y2="435" stroke="#000" stroke-width="1.2" />
<line x1="62.25" y1="531.92" x2="66.25" y2="531.92" stroke="#000" stroke-width="1.2" />
<line x1="62.25" y1="493.15" x2="66.25" y2="493.15" stroke="#000" stroke-width="1.2" />
<line x1="62.25" y1="454.38" x2="66.25" y2="454.38" stroke="#000" stroke-width="1.2" />
<text transform="translate(55.6,554.7) scale(1.04,1)" font-size="10" text-anchor="end" fill="#000" >0</text>
<text transform="translate(55.6,515.93) scale(1.04,1)" font-size="10" text-anchor="end" fill="#000" >1000</text>
<text transform="translate(55.6,477.17) scale(1.04,1)" font-size="10" text-anchor="end" fill="#000" >2000</text>
<text transform="translate(55.6,438.4) scale(1.04,1)" font-size="10" text-anchor="end" fill="#000" >3000</text>
<line x1="65.6" y1="551.3" x2="242" y2="551.3" stroke="#000" stroke-width="1.3" />
<line x1="84" y1="551.3" x2="84" y2="555.3" stroke="#000" stroke-width="1.2" />
<line x1="109.6" y1="551.3" x2="109.6" y2="555.3" stroke="#000" stroke-width="1.2" />
<line x1="145.1" y1="551.3" x2="145.1" y2="555.3" stroke="#000" stroke-width="1.2" />
<line x1="171.4" y1="551.3" x2="171.4" y2="555.3" stroke="#000" stroke-width="1.2" />
<line x1="198" y1="551.3" x2="198" y2="555.3" stroke="#000" stroke-width="1.2" />
<line x1="224.4" y1="551.3" x2="224.4" y2="555.3" stroke="#000" stroke-width="1.2" />
<line x1="127.5" y1="434.5" x2="127.5" y2="551.3" stroke="#000" stroke-width="1.2" stroke-dasharray="1.2 1.2"/>
<line x1="69.6" y1="562.5" x2="120" y2="562.5" stroke="#000" stroke-width="1.3" />
<line x1="69.6" y1="557.5" x2="69.6" y2="567.5" stroke="#000" stroke-width="1.3" />
<line x1="120" y1="557.5" x2="120" y2="567.5" stroke="#000" stroke-width="1.3" />
<line x1="139.3" y1="562.5" x2="232" y2="562.5" stroke="#000" stroke-width="1.3" />
<line x1="139.3" y1="557.5" x2="139.3" y2="567.5" stroke="#000" stroke-width="1.3" />
<line x1="232" y1="557.5" x2="232" y2="567.5" stroke="#000" stroke-width="1.3" />
<text transform="translate(94.8,579.1) scale(1.04,1)" font-size="10" text-anchor="middle" fill="#000" >Untreated</text>
<text transform="translate(166.5,579.3) scale(1.0,1)" font-size="10">JAK2<tspan font-size="6.4" dy="-4.2">+/VF</tspan></text>
<text transform="translate(24.9,493) rotate(-90)" x="0" y="0" font-size="12" text-anchor="middle" textLength="50" lengthAdjust="spacingAndGlyphs" stroke="#000" stroke-width="0.28">PLT [*10<tspan font-size="8" dy="-3">9</tspan><tspan dy="3">/L]</tspan></text>
<line x1="110.4" y1="448.3" x2="224.4" y2="448.3" stroke="#000" stroke-width="1.3" />
<line x1="110.4" y1="443.3" x2="110.4" y2="453.3" stroke="#000" stroke-width="1.3" />
<line x1="224.4" y1="443.3" x2="224.4" y2="453.3" stroke="#000" stroke-width="1.3" />
<line x1="83.8" y1="464" x2="224.4" y2="464" stroke="#000" stroke-width="1.3" />
<line x1="83.8" y1="459" x2="83.8" y2="469" stroke="#000" stroke-width="1.3" />
<line x1="110.4" y1="459" x2="110.4" y2="469" stroke="#000" stroke-width="1.3" />
<line x1="171.4" y1="459" x2="171.4" y2="469" stroke="#000" stroke-width="1.3" />
<line x1="224.4" y1="459" x2="224.4" y2="469" stroke="#000" stroke-width="1.3" />
<line x1="145.1" y1="481.3" x2="171.4" y2="481.3" stroke="#000" stroke-width="1.3" />
<line x1="145.1" y1="476.3" x2="145.1" y2="486.3" stroke="#000" stroke-width="1.3" />
<line x1="171.4" y1="476.3" x2="171.4" y2="486.3" stroke="#000" stroke-width="1.3" />
<line x1="198" y1="481.3" x2="224.4" y2="481.3" stroke="#000" stroke-width="1.3" />
<line x1="198" y1="476.3" x2="198" y2="486.3" stroke="#000" stroke-width="1.3" />
<line x1="224.4" y1="476.3" x2="224.4" y2="486.3" stroke="#000" stroke-width="1.3" />
<text transform="translate(168.7,443.8) scale(1.04,1)" font-size="10" text-anchor="middle" fill="#000" >ns</text>
<text transform="translate(97.1,459.8) scale(1.04,1)" font-size="9" text-anchor="middle" fill="#000" >****</text>
<text transform="translate(142,460) scale(1.04,1)" font-size="10" text-anchor="middle" fill="#000" >ns</text>
<text transform="translate(198.2,460) scale(1.04,1)" font-size="10" text-anchor="middle" fill="#000" >ns</text>
<text transform="translate(158,477) scale(1.04,1)" font-size="10" text-anchor="middle" fill="#000" >ns</text>
<text transform="translate(211.2,477) scale(1.04,1)" font-size="10" text-anchor="middle" fill="#000" >ns</text>
<circle cx="83.2" cy="489.8" r="3.0" fill="#bebec4"/>
<circle cx="80.2" cy="492.3" r="3.0" fill="#bebec4"/>
<circle cx="86.9" cy="494.8" r="3.0" fill="#bebec4"/>
<circle cx="78.3" cy="501.5" r="3.0" fill="#bebec4"/>
<circle cx="88.8" cy="501.5" r="3.0" fill="#bebec4"/>
<circle cx="83.2" cy="499.7" r="3.0" fill="#bebec4"/>
<circle cx="83.2" cy="504" r="3.0" fill="#bebec4"/>
<circle cx="83.2" cy="507" r="3.0" fill="#bebec4"/>
<circle cx="83.2" cy="510" r="3.0" fill="#bebec4"/>
<circle cx="80.2" cy="515.7" r="3.0" fill="#bebec4"/>
<circle cx="86.3" cy="515" r="3.0" fill="#bebec4"/>
<line x1="77" y1="500" x2="90" y2="500" stroke="#bebec4" stroke-width="1.1" />
<path d="M109.7 487.2L112.6 490.1L109.7 493L106.8 490.1Z" fill="#3b4b5f"/>
<path d="M111.5 500.5L114.4 503.4L111.5 506.3L108.6 503.4Z" fill="#3b4b5f"/>
<path d="M108.5 502.3L111.4 505.2L108.5 508.1L105.6 505.2Z" fill="#3b4b5f"/>
<path d="M108.5 508.1L111.4 511L108.5 513.9L105.6 511Z" fill="#3b4b5f"/>
<path d="M106.6 510.3L109.5 513.2L106.6 516.1L103.7 513.2Z" fill="#3b4b5f"/>
<path d="M104 515.1L106.9 518L104 520.9L101.1 518Z" fill="#3b4b5f"/>
<path d="M107.5 513.6L110.4 516.5L107.5 519.4L104.6 516.5Z" fill="#3b4b5f"/>
<path d="M111 515.1L113.9 518L111 520.9L108.1 518Z" fill="#3b4b5f"/>
<path d="M115 515.6L117.9 518.5L115 521.4L112.1 518.5Z" fill="#3b4b5f"/>
<path d="M103.5 519.6L106.4 522.5L103.5 525.4L100.6 522.5Z" fill="#3b4b5f"/>
<path d="M107 518.6L109.9 521.5L107 524.4L104.1 521.5Z" fill="#3b4b5f"/>
<path d="M110.5 519.6L113.4 522.5L110.5 525.4L107.6 522.5Z" fill="#3b4b5f"/>
<path d="M113.5 518.1L116.4 521L113.5 523.9L110.6 521Z" fill="#3b4b5f"/>
<path d="M117 519.6L119.9 522.5L117 525.4L114.1 522.5Z" fill="#3b4b5f"/>
<path d="M105 523.6L107.9 526.5L105 529.4L102.1 526.5Z" fill="#3b4b5f"/>
<path d="M108.5 522.6L111.4 525.5L108.5 528.4L105.6 525.5Z" fill="#3b4b5f"/>
<path d="M112 523.6L114.9 526.5L112 529.4L109.1 526.5Z" fill="#3b4b5f"/>
<path d="M115.5 524.1L118.4 527L115.5 529.9L112.6 527Z" fill="#3b4b5f"/>
<path d="M109.5 526.1L112.4 529L109.5 531.9L106.6 529Z" fill="#3b4b5f"/>
<line x1="101" y1="516.7" x2="119" y2="516.7" stroke="#3b4b5f" stroke-width="1.1" />
<line x1="145.1" y1="501.2" x2="171.4" y2="505" stroke="#c8102e" stroke-width="1.1" />
<line x1="145.1" y1="503.8" x2="171.4" y2="514.6" stroke="#c8102e" stroke-width="1.1" />
<line x1="145.1" y1="506.9" x2="171.4" y2="521.7" stroke="#c8102e" stroke-width="1.1" />
<line x1="145.1" y1="508.8" x2="171.4" y2="523.7" stroke="#c8102e" stroke-width="1.1" />
<line x1="145.1" y1="503.8" x2="171.4" y2="512.1" stroke="#c8102e" stroke-width="1.1" />
<path d="M145.1 498.3L148 501.2L145.1 504.1L142.2 501.2Z" fill="#c8102e"/>
<path d="M171.4 502.1L174.3 505L171.4 507.9L168.5 505Z" fill="#c8102e"/>
<path d="M145.1 500.9L148 503.8L145.1 506.7L142.2 503.8Z" fill="#c8102e"/>
<path d="M171.4 511.7L174.3 514.6L171.4 517.5L168.5 514.6Z" fill="#c8102e"/>
<path d="M145.1 504L148 506.9L145.1 509.8L142.2 506.9Z" fill="#c8102e"/>
<path d="M171.4 518.8L174.3 521.7L171.4 524.6L168.5 521.7Z" fill="#c8102e"/>
<path d="M145.1 505.9L148 508.8L145.1 511.7L142.2 508.8Z" fill="#c8102e"/>
<path d="M171.4 520.8L174.3 523.7L171.4 526.6L168.5 523.7Z" fill="#c8102e"/>
<path d="M145.1 500.9L148 503.8L145.1 506.7L142.2 503.8Z" fill="#c8102e"/>
<path d="M171.4 509.2L174.3 512.1L171.4 515L168.5 512.1Z" fill="#c8102e"/>
<line x1="198" y1="503.8" x2="224.4" y2="519.2" stroke="#15548e" stroke-width="1.1" />
<line x1="198" y1="513.5" x2="224.4" y2="503.8" stroke="#15548e" stroke-width="1.1" />
<line x1="198" y1="515" x2="224.4" y2="514.6" stroke="#15548e" stroke-width="1.1" />
<line x1="198" y1="522.3" x2="224.4" y2="530.4" stroke="#15548e" stroke-width="1.1" />
<line x1="198" y1="513.5" x2="224.4" y2="514.6" stroke="#15548e" stroke-width="1.1" />
<path d="M198 500.9L200.9 503.8L198 506.7L195.1 503.8Z" fill="#15548e"/>
<path d="M224.4 516.3L227.3 519.2L224.4 522.1L221.5 519.2Z" fill="#15548e"/>
<path d="M198 510.6L200.9 513.5L198 516.4L195.1 513.5Z" fill="#15548e"/>
<path d="M224.4 500.9L227.3 503.8L224.4 506.7L221.5 503.8Z" fill="#15548e"/>
<path d="M198 512.1L200.9 515L198 517.9L195.1 515Z" fill="#15548e"/>
<path d="M224.4 511.7L227.3 514.6L224.4 517.5L221.5 514.6Z" fill="#15548e"/>
<path d="M198 519.4L200.9 522.3L198 525.2L195.1 522.3Z" fill="#15548e"/>
<path d="M224.4 527.5L227.3 530.4L224.4 533.3L221.5 530.4Z" fill="#15548e"/>
<path d="M198 510.6L200.9 513.5L198 516.4L195.1 513.5Z" fill="#15548e"/>
<path d="M224.4 511.7L227.3 514.6L224.4 517.5L221.5 514.6Z" fill="#15548e"/>
<text transform="translate(282.6,425.2) scale(1.0,1)" font-size="15" font-weight="bold" fill="#000" >F</text>
<line x1="332.25" y1="434.5" x2="332.25" y2="552.05" stroke="#000" stroke-width="1.3" />
<line x1="326.25" y1="551.4" x2="332.25" y2="551.4" stroke="#000" stroke-width="1.2" />
<line x1="326.25" y1="522.17" x2="332.25" y2="522.17" stroke="#000" stroke-width="1.2" />
<line x1="326.25" y1="492.95" x2="332.25" y2="492.95" stroke="#000" stroke-width="1.2" />
<line x1="326.25" y1="463.73" x2="332.25" y2="463.73" stroke="#000" stroke-width="1.2" />
<line x1="326.25" y1="434.5" x2="332.25" y2="434.5" stroke="#000" stroke-width="1.2" />
<line x1="328.25" y1="536.79" x2="332.25" y2="536.79" stroke="#000" stroke-width="1.2" />
<line x1="328.25" y1="507.56" x2="332.25" y2="507.56" stroke="#000" stroke-width="1.2" />
<line x1="328.25" y1="478.34" x2="332.25" y2="478.34" stroke="#000" stroke-width="1.2" />
<line x1="328.25" y1="449.11" x2="332.25" y2="449.11" stroke="#000" stroke-width="1.2" />
<text transform="translate(322.6,554.8) scale(1.04,1)" font-size="10" text-anchor="end" fill="#000" >0</text>
<text transform="translate(322.6,525.57) scale(1.04,1)" font-size="10" text-anchor="end" fill="#000" >1</text>
<text transform="translate(322.6,496.35) scale(1.04,1)" font-size="10" text-anchor="end" fill="#000" >2</text>
<text transform="translate(322.6,467.12) scale(1.04,1)" font-size="10" text-anchor="end" fill="#000" >3</text>
<text transform="translate(322.6,437.9) scale(1.04,1)" font-size="10" text-anchor="end" fill="#000" >4</text>
<line x1="331.6" y1="551.4" x2="508" y2="551.4" stroke="#000" stroke-width="1.3" />
<line x1="350" y1="551.4" x2="350" y2="555.4" stroke="#000" stroke-width="1.2" />
<line x1="375.6" y1="551.4" x2="375.6" y2="555.4" stroke="#000" stroke-width="1.2" />
<line x1="411.1" y1="551.4" x2="411.1" y2="555.4" stroke="#000" stroke-width="1.2" />
<line x1="437.4" y1="551.4" x2="437.4" y2="555.4" stroke="#000" stroke-width="1.2" />
<line x1="464" y1="551.4" x2="464" y2="555.4" stroke="#000" stroke-width="1.2" />
<line x1="490.4" y1="551.4" x2="490.4" y2="555.4" stroke="#000" stroke-width="1.2" />
<line x1="393.5" y1="434.5" x2="393.5" y2="551.4" stroke="#000" stroke-width="1.2" stroke-dasharray="1.2 1.2"/>
<line x1="335.6" y1="562.6" x2="386" y2="562.6" stroke="#000" stroke-width="1.3" />
<line x1="335.6" y1="557.6" x2="335.6" y2="567.6" stroke="#000" stroke-width="1.3" />
<line x1="386" y1="557.6" x2="386" y2="567.6" stroke="#000" stroke-width="1.3" />
<line x1="405.3" y1="562.6" x2="498" y2="562.6" stroke="#000" stroke-width="1.3" />
<line x1="405.3" y1="557.6" x2="405.3" y2="567.6" stroke="#000" stroke-width="1.3" />
<line x1="498" y1="557.6" x2="498" y2="567.6" stroke="#000" stroke-width="1.3" />
<text transform="translate(360.8,579.2) scale(1.04,1)" font-size="10" text-anchor="middle" fill="#000" >Untreated</text>
<text transform="translate(432.5,579.4) scale(1.0,1)" font-size="10">JAK2<tspan font-size="6.4" dy="-4.2">+/VF</tspan></text>
<text transform="translate(298.1,493) rotate(-90)" x="0" y="0" font-size="12" text-anchor="middle" textLength="84.6" lengthAdjust="spacingAndGlyphs" stroke="#000" stroke-width="0.28">Neutrophiles [*10<tspan font-size="8" dy="-3">9</tspan><tspan dy="3">/L]</tspan></text>
<line x1="349.8" y1="434.5" x2="490.4" y2="434.5" stroke="#000" stroke-width="1.3" />
<line x1="349.8" y1="429.5" x2="349.8" y2="439.5" stroke="#000" stroke-width="1.3" />
<line x1="376.2" y1="429.5" x2="376.2" y2="439.5" stroke="#000" stroke-width="1.3" />
<line x1="490.4" y1="429.5" x2="490.4" y2="439.5" stroke="#000" stroke-width="1.3" />
<line x1="376.2" y1="450.8" x2="490.4" y2="450.8" stroke="#000" stroke-width="1.3" />
<line x1="376.2" y1="445.8" x2="376.2" y2="455.8" stroke="#000" stroke-width="1.3" />
<line x1="437.4" y1="445.8" x2="437.4" y2="455.8" stroke="#000" stroke-width="1.3" />
<line x1="490.4" y1="445.8" x2="490.4" y2="455.8" stroke="#000" stroke-width="1.3" />
<line x1="411.1" y1="467.5" x2="437.4" y2="467.5" stroke="#000" stroke-width="1.3" />
<line x1="411.1" y1="462.5" x2="411.1" y2="472.5" stroke="#000" stroke-width="1.3" />
<line x1="437.4" y1="462.5" x2="437.4" y2="472.5" stroke="#000" stroke-width="1.3" />
<line x1="464" y1="467.5" x2="490.4" y2="467.5" stroke="#000" stroke-width="1.3" />
<line x1="464" y1="462.5" x2="464" y2="472.5" stroke="#000" stroke-width="1.3" />
<line x1="490.4" y1="462.5" x2="490.4" y2="472.5" stroke="#000" stroke-width="1.3" />
<text transform="translate(362.6,430.2) scale(1.04,1)" font-size="10" text-anchor="middle" fill="#000" >ns</text>
<text transform="translate(434.3,430.2) scale(1.04,1)" font-size="10" text-anchor="middle" fill="#000" >ns</text>
<text transform="translate(408.3,446.4) scale(1.04,1)" font-size="10" text-anchor="middle" fill="#000" >ns</text>
<text transform="translate(464.3,446.4) scale(1.04,1)" font-size="10" text-anchor="middle" fill="#000" >ns</text>
<text transform="translate(424.3,463.1) scale(1.04,1)" font-size="10" text-anchor="middle" fill="#000" >ns</text>
<text transform="translate(477,463.1) scale(1.04,1)" font-size="10" text-anchor="middle" fill="#000" >ns</text>
<circle cx="349.3" cy="443.8" r="3.0" fill="#bebec4"/>
<circle cx="343.5" cy="505.3" r="3.0" fill="#bebec4"/>
<circle cx="347.5" cy="508.3" r="3.0" fill="#bebec4"/>
<circle cx="352.2" cy="506.2" r="3.0" fill="#bebec4"/>
<circle cx="349.5" cy="515.3" r="3.0" fill="#bebec4"/>
<circle cx="343.5" cy="531.1" r="3.0" fill="#bebec4"/>
<circle cx="351.5" cy="529.1" r="3.0" fill="#bebec4"/>
<circle cx="355.6" cy="535.2" r="3.0" fill="#bebec4"/>
<circle cx="347.5" cy="535.2" r="3.0" fill="#bebec4"/>
<circle cx="343.5" cy="539.2" r="3.0" fill="#bebec4"/>
<circle cx="351.5" cy="537.9" r="3.0" fill="#bebec4"/>
<circle cx="354.9" cy="543.5" r="3.0" fill="#bebec4"/>
<circle cx="350.9" cy="543.9" r="3.0" fill="#bebec4"/>
<circle cx="343.5" cy="546.9" r="3.0" fill="#bebec4"/>
<line x1="340.5" y1="523.1" x2="358.5" y2="523.1" stroke="#bebec4" stroke-width="1.2" />
<line x1="349.5" y1="496.2" x2="349.5" y2="550" stroke="#bebec4" stroke-width="1.2" />
<line x1="345" y1="496.2" x2="354" y2="496.2" stroke="#bebec4" stroke-width="1.2" />
<line x1="345" y1="550" x2="354" y2="550" stroke="#bebec4" stroke-width="1.2" />
<path d="M381 523.3L384.2 526.5L381 529.7L377.8 526.5Z" fill="#000000"/>
<path d="M377.5 526.3L380.7 529.5L377.5 532.7L374.3 529.5Z" fill="#000000"/>
<path d="M372.5 527.8L375.7 531L372.5 534.2L369.3 531Z" fill="#000000"/>
<path d="M370 531.3L373.2 534.5L370 537.7L366.8 534.5Z" fill="#000000"/>
<path d="M375 530.8L378.2 534L375 537.2L371.8 534Z" fill="#000000"/>
<path d="M380 530.3L383.2 533.5L380 536.7L376.8 533.5Z" fill="#000000"/>
<path d="M383 534.3L386.2 537.5L383 540.7L379.8 537.5Z" fill="#000000"/>
<path d="M377 534.8L380.2 538L377 541.2L373.8 538Z" fill="#000000"/>
<path d="M372 535.8L375.2 539L372 542.2L368.8 539Z" fill="#000000"/>
<path d="M368.5 538.3L371.7 541.5L368.5 544.7L365.3 541.5Z" fill="#000000"/>
<path d="M374 539.3L377.2 542.5L374 545.7L370.8 542.5Z" fill="#000000"/>
<path d="M379 538.3L382.2 541.5L379 544.7L375.8 541.5Z" fill="#000000"/>
<path d="M383.5 540.8L386.7 544L383.5 547.2L380.3 544Z" fill="#000000"/>
<path d="M370 542.3L373.2 545.5L370 548.7L366.8 545.5Z" fill="#000000"/>
<path d="M376 542.8L379.2 546L376 549.2L372.8 546Z" fill="#000000"/>
<path d="M380.5 543.3L383.7 546.5L380.5 549.7L377.3 546.5Z" fill="#000000"/>
<line x1="367" y1="537.2" x2="384" y2="537.2" stroke="#000" stroke-width="1.1" />
<line x1="411.1" y1="532.1" x2="437.4" y2="534" stroke="#c8102e" stroke-width="1.1" />
<line x1="411.1" y1="535" x2="437.4" y2="539.8" stroke="#c8102e" stroke-width="1.1" />
<line x1="411.1" y1="537.3" x2="437.4" y2="543.1" stroke="#c8102e" stroke-width="1.1" />
<line x1="411.1" y1="543.7" x2="437.4" y2="546.5" stroke="#c8102e" stroke-width="1.1" />
<line x1="411.1" y1="535" x2="437.4" y2="543.1" stroke="#c8102e" stroke-width="1.1" />
<path d="M411.1 529.2L414 532.1L411.1 535L408.2 532.1Z" fill="#c8102e"/>
<path d="M437.4 531.1L440.3 534L437.4 536.9L434.5 534Z" fill="#c8102e"/>
<path d="M411.1 532.1L414 535L411.1 537.9L408.2 535Z" fill="#c8102e"/>
<path d="M437.4 536.9L440.3 539.8L437.4 542.7L434.5 539.8Z" fill="#c8102e"/>
<path d="M411.1 534.4L414 537.3L411.1 540.2L408.2 537.3Z" fill="#c8102e"/>
<path d="M437.4 540.2L440.3 543.1L437.4 546L434.5 543.1Z" fill="#c8102e"/>
<path d="M411.1 540.8L414 543.7L411.1 546.6L408.2 543.7Z" fill="#c8102e"/>
<path d="M437.4 543.6L440.3 546.5L437.4 549.4L434.5 546.5Z" fill="#c8102e"/>
<path d="M411.1 532.1L414 535L411.1 537.9L408.2 535Z" fill="#c8102e"/>
<path d="M437.4 540.2L440.3 543.1L437.4 546L434.5 543.1Z" fill="#c8102e"/>
<line x1="464" y1="529.2" x2="490.4" y2="526" stroke="#15548e" stroke-width="1.1" />
<line x1="464" y1="529.2" x2="490.4" y2="542.3" stroke="#15548e" stroke-width="1.1" />
<line x1="464" y1="538.8" x2="490.4" y2="532.7" stroke="#15548e" stroke-width="1.1" />
<line x1="464" y1="542.7" x2="490.4" y2="545.6" stroke="#15548e" stroke-width="1.1" />
<path d="M464 526.3L466.9 529.2L464 532.1L461.1 529.2Z" fill="#15548e"/>
<path d="M490.4 523.1L493.3 526L490.4 528.9L487.5 526Z" fill="#15548e"/>
<path d="M464 526.3L466.9 529.2L464 532.1L461.1 529.2Z" fill="#15548e"/>
<path d="M490.4 539.4L493.3 542.3L490.4 545.2L487.5 542.3Z" fill="#15548e"/>
<path d="M464 535.9L466.9 538.8L464 541.7L461.1 538.8Z" fill="#15548e"/>
<path d="M490.4 529.8L493.3 532.7L490.4 535.6L487.5 532.7Z" fill="#15548e"/>
<path d="M464 539.8L466.9 542.7L464 545.6L461.1 542.7Z" fill="#15548e"/>
<path d="M490.4 542.7L493.3 545.6L490.4 548.5L487.5 545.6Z" fill="#15548e"/>
<text transform="translate(9.6,612.2) scale(1.0,1)" font-size="15" font-weight="bold" fill="#000" >G</text>
<line x1="66.25" y1="622" x2="66.25" y2="738.95" stroke="#000" stroke-width="1.3" />
<line x1="60.25" y1="738.3" x2="66.25" y2="738.3" stroke="#000" stroke-width="1.2" />
<line x1="60.25" y1="715.04" x2="66.25" y2="715.04" stroke="#000" stroke-width="1.2" />
<line x1="60.25" y1="691.78" x2="66.25" y2="691.78" stroke="#000" stroke-width="1.2" />
<line x1="60.25" y1="668.52" x2="66.25" y2="668.52" stroke="#000" stroke-width="1.2" />
<line x1="60.25" y1="645.26" x2="66.25" y2="645.26" stroke="#000" stroke-width="1.2" />
<line x1="60.25" y1="622" x2="66.25" y2="622" stroke="#000" stroke-width="1.2" />
<line x1="62.25" y1="726.67" x2="66.25" y2="726.67" stroke="#000" stroke-width="1.2" />
<line x1="62.25" y1="703.41" x2="66.25" y2="703.41" stroke="#000" stroke-width="1.2" />
<line x1="62.25" y1="680.15" x2="66.25" y2="680.15" stroke="#000" stroke-width="1.2" />
<line x1="62.25" y1="656.89" x2="66.25" y2="656.89" stroke="#000" stroke-width="1.2" />
<line x1="62.25" y1="633.63" x2="66.25" y2="633.63" stroke="#000" stroke-width="1.2" />
<text transform="translate(55.6,741.7) scale(1.04,1)" font-size="10" text-anchor="end" fill="#000" >0</text>
<text transform="translate(55.6,718.44) scale(1.04,1)" font-size="10" text-anchor="end" fill="#000" >200</text>
<text transform="translate(55.6,695.18) scale(1.04,1)" font-size="10" text-anchor="end" fill="#000" >400</text>
<text transform="translate(55.6,671.92) scale(1.04,1)" font-size="10" text-anchor="end" fill="#000" >600</text>
<text transform="translate(55.6,648.66) scale(1.04,1)" font-size="10" text-anchor="end" fill="#000" >800</text>
<text transform="translate(55.6,625.4) scale(1.04,1)" font-size="10" text-anchor="end" fill="#000" >1000</text>
<line x1="65.6" y1="738.3" x2="242" y2="738.3" stroke="#000" stroke-width="1.3" />
<line x1="93" y1="738.3" x2="93" y2="742.3" stroke="#000" stroke-width="1.2" />
<line x1="133.8" y1="738.3" x2="133.8" y2="742.3" stroke="#000" stroke-width="1.2" />
<line x1="174.2" y1="738.3" x2="174.2" y2="742.3" stroke="#000" stroke-width="1.2" />
<line x1="214.5" y1="738.3" x2="214.5" y2="742.3" stroke="#000" stroke-width="1.2" />
<line x1="82.6" y1="749.2" x2="142.7" y2="749.2" stroke="#000" stroke-width="1.3" />
<line x1="82.6" y1="744.2" x2="82.6" y2="754.2" stroke="#000" stroke-width="1.3" />
<line x1="142.7" y1="744.2" x2="142.7" y2="754.2" stroke="#000" stroke-width="1.3" />
<line x1="166.9" y1="749.2" x2="226.9" y2="749.2" stroke="#000" stroke-width="1.3" />
<line x1="166.9" y1="744.2" x2="166.9" y2="754.2" stroke="#000" stroke-width="1.3" />
<line x1="226.9" y1="744.2" x2="226.9" y2="754.2" stroke="#000" stroke-width="1.3" />
<text transform="translate(112.6,766.5) scale(1.04,1)" font-size="10" text-anchor="middle" fill="#000" >Untreated</text>
<text transform="translate(177.9,766.6) scale(1.0,1)" font-size="10">JAK2<tspan font-size="6.4" dy="-4.2">+/VF</tspan></text>
<text transform="translate(20,680.2) rotate(-90)" x="0" y="0" font-size="12" text-anchor="middle" textLength="50" lengthAdjust="spacingAndGlyphs" stroke="#000" stroke-width="0.28">Weight [mg]</text>
<line x1="133.6" y1="631.6" x2="214.3" y2="631.6" stroke="#000" stroke-width="1.3" />
<line x1="133.6" y1="626.6" x2="133.6" y2="636.6" stroke="#000" stroke-width="1.3" />
<line x1="214.3" y1="626.6" x2="214.3" y2="636.6" stroke="#000" stroke-width="1.3" />
<line x1="93" y1="649.6" x2="214.3" y2="649.6" stroke="#000" stroke-width="1.3" />
<line x1="93" y1="644.6" x2="93" y2="654.6" stroke="#000" stroke-width="1.3" />
<line x1="133.6" y1="644.6" x2="133.6" y2="654.6" stroke="#000" stroke-width="1.3" />
<line x1="173.9" y1="644.6" x2="173.9" y2="654.6" stroke="#000" stroke-width="1.3" />
<line x1="214.3" y1="644.6" x2="214.3" y2="654.6" stroke="#000" stroke-width="1.3" />
<text transform="translate(173.8,626.8) scale(1.04,1)" font-size="10" text-anchor="middle" fill="#000" >ns</text>
<text transform="translate(113.3,644.3) scale(1.04,1)" font-size="9" text-anchor="middle" fill="#000" >****</text>
<text transform="translate(153.6,644.5) scale(1.04,1)" font-size="10" text-anchor="middle" fill="#000" >ns</text>
<text transform="translate(194.5,644.5) scale(1.04,1)" font-size="10" text-anchor="middle" fill="#000" >ns</text>
<circle cx="101" cy="722" r="2.9" fill="#bebec4"/>
<circle cx="84.9" cy="724.4" r="2.9" fill="#bebec4"/>
<circle cx="90.2" cy="725.4" r="2.9" fill="#bebec4"/>
<circle cx="82.5" cy="728.75" r="2.9" fill="#bebec4"/>
<circle cx="93.1" cy="730.7" r="2.9" fill="#bebec4"/>
<circle cx="98.8" cy="729.7" r="2.9" fill="#bebec4"/>
<circle cx="103.7" cy="730.2" r="2.9" fill="#bebec4"/>
<circle cx="95" cy="727.3" r="2.9" fill="#bebec4"/>
<circle cx="87.3" cy="727.8" r="2.9" fill="#bebec4"/>
<circle cx="80" cy="729" r="2.9" fill="#bebec4"/>
<circle cx="91" cy="729" r="2.9" fill="#bebec4"/>
<line x1="80" y1="727.5" x2="104" y2="727.5" stroke="#bebec4" stroke-width="1.1" />
<path d="M122 660.5L124.9 663.4L122 666.3L119.1 663.4Z" fill="#3b4b5f"/>
<path d="M126.5 659.6L129.4 662.5L126.5 665.4L123.6 662.5Z" fill="#3b4b5f"/>
<path d="M131 660.6L133.9 663.5L131 666.4L128.1 663.5Z" fill="#3b4b5f"/>
<path d="M136 659.1L138.9 662L136 664.9L133.1 662Z" fill="#3b4b5f"/>
<path d="M140.5 660.1L143.4 663L140.5 665.9L137.6 663Z" fill="#3b4b5f"/>
<path d="M145 660.6L147.9 663.5L145 666.4L142.1 663.5Z" fill="#3b4b5f"/>
<path d="M124.5 663.6L127.4 666.5L124.5 669.4L121.6 666.5Z" fill="#3b4b5f"/>
<path d="M129 663.6L131.9 666.5L129 669.4L126.1 666.5Z" fill="#3b4b5f"/>
<path d="M134 663.1L136.9 666L134 668.9L131.1 666Z" fill="#3b4b5f"/>
<path d="M139 663.6L141.9 666.5L139 669.4L136.1 666.5Z" fill="#3b4b5f"/>
<path d="M129.5 671.3L132.4 674.2L129.5 677.1L126.6 674.2Z" fill="#3b4b5f"/>
<path d="M134 672.1L136.9 675L134 677.9L131.1 675Z" fill="#3b4b5f"/>
<path d="M139 671.6L141.9 674.5L139 677.4L136.1 674.5Z" fill="#3b4b5f"/>
<path d="M131 673.9L133.9 676.8L131 679.7L128.1 676.8Z" fill="#3b4b5f"/>
<path d="M136 674.1L138.9 677L136 679.9L133.1 677Z" fill="#3b4b5f"/>
<path d="M141 673.7L143.9 676.6L141 679.5L138.1 676.6Z" fill="#3b4b5f"/>
<path d="M133.3 685.3L136.2 688.2L133.3 691.1L130.4 688.2Z" fill="#3b4b5f"/>
<line x1="120" y1="670" x2="147" y2="670" stroke="#3b4b5f" stroke-width="1.1" />
<line x1="133.5" y1="663.4" x2="133.5" y2="677.8" stroke="#3b4b5f" stroke-width="1.1" />
<line x1="127" y1="663.4" x2="140" y2="663.4" stroke="#3b4b5f" stroke-width="1.1" />
<line x1="127" y1="677.8" x2="140" y2="677.8" stroke="#3b4b5f" stroke-width="1.1" />
<line x1="159.8" y1="675.4" x2="187.8" y2="675.4" stroke="#c8102e" stroke-width="1.3" />
<line x1="173.8" y1="670.6" x2="173.8" y2="679.8" stroke="#c8102e" stroke-width="1.3" />
<line x1="167.8" y1="670.6" x2="179.8" y2="670.6" stroke="#c8102e" stroke-width="1.3" />
<line x1="167.8" y1="679.8" x2="179.8" y2="679.8" stroke="#c8102e" stroke-width="1.3" />
<path d="M162.4 670.1L165.3 673L162.4 675.9L159.5 673Z" fill="#c8102e"/>
<path d="M162.4 676.9L165.3 679.8L162.4 682.7L159.5 679.8Z" fill="#c8102e"/>
<path d="M173.7 673.3L176.6 676.2L173.7 679.1L170.8 676.2Z" fill="#c8102e"/>
<path d="M185 665.3L187.9 668.2L185 671.1L182.1 668.2Z" fill="#c8102e"/>
<path d="M185 674.9L187.9 677.8L185 680.7L182.1 677.8Z" fill="#c8102e"/>
<line x1="200.3" y1="676.2" x2="227.7" y2="676.2" stroke="#15548e" stroke-width="1.3" />
<line x1="214" y1="668.7" x2="214" y2="684.3" stroke="#15548e" stroke-width="1.3" />
<line x1="208" y1="668.7" x2="220" y2="668.7" stroke="#15548e" stroke-width="1.3" />
<line x1="208" y1="684.3" x2="220" y2="684.3" stroke="#15548e" stroke-width="1.3" />
<path d="M213.8 661.2L216.7 664.1L213.8 667L210.9 664.1Z" fill="#15548e"/>
<path d="M203.8 678.5L206.7 681.4L203.8 684.3L200.9 681.4Z" fill="#15548e"/>
<path d="M213.8 675.4L216.7 678.3L213.8 681.2L210.9 678.3Z" fill="#15548e"/>
<path d="M225.4 676.9L228.3 679.8L225.4 682.7L222.5 679.8Z" fill="#15548e"/>
<circle cx="34.3" cy="797.4" r="2.8" fill="#bebec4"/>
<text transform="translate(41.7,801.8) scale(1.0,1)" font-size="9.6">JAK2<tspan font-size="5.8" dy="-3.6">WT</tspan></text>
<path d="M89.9 794.3L92.9 797.3L89.9 800.3L86.9 797.3Z" fill="#3b4b5f"/>
<text transform="translate(96.2,801.8) scale(1.0,1)" font-size="9.6">JAK2<tspan font-size="5.8" dy="-4.2">+/VF</tspan></text>
<path d="M147.5 794.5L150.5 797.5L147.5 800.5L144.5 797.5Z" fill="#c8102e"/>
<text transform="translate(156.2,801.8) scale(1.0,1)" font-size="9.8" fill="#000" >αTNFR2</text>
<path d="M205 794.5L208 797.5L205 800.5L202 797.5Z" fill="#15548e"/>
<text transform="translate(212.5,801.8) scale(1.0,1)" font-size="9.8" fill="#000" >IgG</text>
<text transform="translate(234.4,801.8) scale(1.0,1)" font-size="9.8" fill="#000" >Ctrl</text>
<text transform="translate(282.8,611.8) scale(1.0,1)" font-size="15" font-weight="bold" fill="#000" >H</text>
<text transform="translate(354.5,618) scale(1.0,1)" font-size="10">JAK2<tspan font-size="6.4" dy="-4">WT</tspan></text>
<text transform="translate(444.5,617.8) scale(1.0,1)" font-size="10">JAK2<tspan font-size="6.4" dy="-4">VF+</tspan></text>
<text transform="translate(352,781.2) scale(1.04,1)" font-size="10" fill="#000" >αTNFR2</text>
<text transform="translate(453.1,781.2) scale(1.04,1)" font-size="10" fill="#000" >IgG</text>
<text x="371.8" y="802.2" font-size="10">JAK2<tspan font-size="6.2" dy="-4">VF+</tspan><tspan dy="4"> treated with</tspan></text>
<defs>
<clipPath id="cTL"><rect x="325" y="630" width="92.3" height="68.6"/></clipPath>
<clipPath id="cTR"><rect x="417.3" y="630" width="92.2" height="68.6"/></clipPath>
<clipPath id="cBL"><rect x="325" y="698.6" width="92.3" height="68.4"/></clipPath>
<clipPath id="cBR"><rect x="417.3" y="698.6" width="92.2" height="68.4"/></clipPath>
<linearGradient id="gTL" x1="0" y1="0" x2="1" y2="1"><stop offset="0" stop-color="#f3f3f4"/><stop offset="1" stop-color="#fcfcfc"/></linearGradient>
<radialGradient id="gTR" cx="0.4" cy="0.78" r="0.6"><stop offset="0" stop-color="#f3e6da"/><stop offset="0.6" stop-color="#faf6f2"/><stop offset="1" stop-color="#fdfdfd"/></radialGradient>
<linearGradient id="gBL" x1="0" y1="0" x2="1" y2="1"><stop offset="0" stop-color="#ecebed"/><stop offset="0.6" stop-color="#f6f5f6"/><stop offset="1" stop-color="#fbfafa"/></linearGradient>
<linearGradient id="gBR" x1="0" y1="0" x2="1" y2="1"><stop offset="0" stop-color="#f6f2ee"/><stop offset="1" stop-color="#fbf7f3"/></linearGradient>
<linearGradient id="sWT" x1="0" y1="0" x2="1" y2="0"><stop offset="0" stop-color="#3a040c"/><stop offset="0.3" stop-color="#520812"/><stop offset="0.6" stop-color="#720d1b"/><stop offset="1" stop-color="#861222"/></linearGradient>
<radialGradient id="sp" cx="0.45" cy="0.5" r="0.62"><stop offset="0" stop-color="#3e0815"/><stop offset="0.6" stop-color="#480a18"/><stop offset="0.9" stop-color="#5c0d1d"/><stop offset="1" stop-color="#781424"/></radialGradient>
<filter id="bl" x="-5%" y="-5%" width="110%" height="110%"><feGaussianBlur stdDeviation="0.6"/></filter>
<filter id="bl2"><feGaussianBlur stdDeviation="1.2"/></filter>
<filter id="bl3" x="-50%" y="-50%" width="200%" height="200%"><feGaussianBlur stdDeviation="0.9"/></filter>
<radialGradient id="spTN" cx="0.45" cy="0.5" r="0.62"><stop offset="0" stop-color="#4c0b18"/><stop offset="0.6" stop-color="#540c1b"/><stop offset="0.9" stop-color="#64101f"/><stop offset="1" stop-color="#7e1828"/></radialGradient>
<radialGradient id="spIG" cx="0.45" cy="0.5" r="0.62"><stop offset="0" stop-color="#460a17"/><stop offset="0.6" stop-color="#4e0b1a"/><stop offset="0.9" stop-color="#600e1e"/><stop offset="1" stop-color="#7a1526"/></radialGradient>
</defs>
<rect x="325" y="630" width="92.3" height="68.6" fill="url(#gTL)"/>
<rect x="417.3" y="630" width="92.2" height="68.6" fill="url(#gTR)"/>
<rect x="325" y="698.6" width="92.3" height="68.4" fill="url(#gBL)"/>
<rect x="417.3" y="698.6" width="92.2" height="68.4" fill="url(#gBR)"/>
<g clip-path="url(#cBL)"><path d="M328 749.5 L340 749.5 L352 750 L361 750.5 L364 753 L363 756 L352 755 L340 754.5 L328 756Z" fill="#efc4c4" filter="url(#bl2)" opacity="0.8"/><g filter="url(#bl)" stroke-linecap="round" fill="none"><path d="M330 750 L331 755" stroke="#e49a9a" stroke-width="1.6"/><path d="M333.5 750 L334.5 753" stroke="#eab0b0" stroke-width="1.2"/><path d="M339 751 L352 751.5" stroke="#e39292" stroke-width="1.5"/><path d="M341 752.5 L350 753" stroke="#e7a2a2" stroke-width="1.1"/><path d="M353 751 L361 753" stroke="#d86262" stroke-width="2.6"/><path d="M355 751.5 L359 752.5" stroke="#cc4a4a" stroke-width="1.6"/><path d="M358 754 L362 755" stroke="#e08a8a" stroke-width="1.4"/><path d="M367 756 L371 757.5" stroke="#f0cccc" stroke-width="1.4"/><path d="M374 758.5 L377 759" stroke="#f2d4d4" stroke-width="1.2"/><path d="M383.5 754 L386.5 754.5" stroke="#f2d6d6" stroke-width="1.3"/></g></g>
<g filter="url(#bl)" fill="#e8c4b0"><circle cx="439.4" cy="703.6" r="1.1"/><circle cx="488.5" cy="747.2" r="1.2"/><circle cx="502.8" cy="712.4" r="0.9"/></g>
<g filter="url(#bl2)" opacity="0.55"><ellipse cx="440" cy="678" rx="16" ry="2.5" fill="#e8cfc0"/><ellipse cx="372" cy="741" rx="28" ry="2" fill="#e2d0d0"/><ellipse cx="462" cy="746" rx="36" ry="2" fill="#ecd6cc"/></g>
<path d="M344.00 668.00C344.25 667.20 344.17 665.90 346.00 665.20C347.83 664.50 351.83 664.08 355.00 663.80C358.17 663.52 361.67 663.50 365.00 663.50C368.33 663.50 372.17 663.55 375.00 663.80C377.83 664.05 380.08 664.30 382.00 665.00C383.92 665.70 385.58 667.17 386.50 668.00C387.42 668.83 387.67 669.17 387.50 670.00C387.33 670.83 386.75 672.17 385.50 673.00C384.25 673.83 382.08 674.70 380.00 675.00C377.92 675.30 375.50 675.10 373.00 674.80C370.50 674.50 368.00 673.53 365.00 673.20C362.00 672.87 357.83 673.00 355.00 672.80C352.17 672.60 349.75 672.47 348.00 672.00C346.25 671.53 345.17 670.67 344.50 670.00C343.83 669.33 343.75 668.80 344.00 668.00Z" fill="url(#sWT)" stroke="#9a1626" stroke-width="1.1" filter="url(#bl)"/>
<path d="M425.80 652.80C426.82 651.65 427.93 651.75 430.10 651.90C432.27 652.05 435.63 653.07 438.80 653.70C441.97 654.33 445.35 655.18 449.10 655.70C452.85 656.22 456.97 656.72 461.30 656.80C465.63 656.88 470.20 656.38 475.10 656.20C480.00 656.02 486.67 655.40 490.70 655.70C494.73 656.00 497.58 656.90 499.30 658.00C501.02 659.10 500.85 660.87 501.00 662.30C501.15 663.73 501.05 665.50 500.20 666.60C499.35 667.70 498.07 668.32 495.90 668.90C493.73 669.48 490.67 669.75 487.20 670.10C483.73 670.45 478.85 670.57 475.10 671.00C471.35 671.43 467.88 671.70 464.70 672.70C461.52 673.70 459.17 676.13 456.00 677.00C452.83 677.87 449.15 678.05 445.70 677.90C442.25 677.75 438.18 676.83 435.30 676.10C432.42 675.37 430.13 674.93 428.40 673.50C426.67 672.07 425.63 669.95 424.90 667.50C424.17 665.05 423.85 661.25 424.00 658.80C424.15 656.35 424.78 653.95 425.80 652.80Z" fill="url(#sp)" stroke="#7c1424" stroke-width="1.1" filter="url(#bl)"/>
<path d="M338.80 731.30C338.93 729.73 339.65 728.35 340.50 727.00C341.35 725.65 341.92 724.50 343.90 723.20C345.88 721.90 349.58 720.28 352.40 719.20C355.22 718.12 358.27 717.32 360.80 716.70C363.33 716.08 365.33 715.60 367.60 715.50C369.87 715.40 371.87 715.88 374.40 716.10C376.93 716.32 379.70 716.73 382.80 716.80C385.90 716.87 390.47 716.48 393.00 716.50C395.53 716.52 396.58 716.40 398.00 716.90C399.42 717.40 400.75 718.40 401.50 719.50C402.25 720.60 401.95 722.23 402.50 723.50C403.05 724.77 404.13 725.80 404.80 727.10C405.47 728.40 406.35 730.03 406.50 731.30C406.65 732.57 406.53 733.85 405.70 734.70C404.87 735.55 403.90 735.98 401.50 736.40C399.10 736.82 395.25 737.00 391.30 737.20C387.35 737.40 382.32 737.45 377.80 737.60C373.28 737.75 368.43 737.82 364.20 738.10C359.97 738.38 355.78 739.17 352.40 739.30C349.02 739.43 346.02 739.38 343.90 738.90C341.78 738.42 340.55 737.67 339.70 736.40C338.85 735.13 338.67 732.87 338.80 731.30Z" fill="url(#spTN)" stroke="#7a1626" stroke-width="1.1" filter="url(#bl)"/>
<path d="M423.30 727.40C424.48 725.77 425.95 724.63 428.60 723.80C431.25 722.97 435.37 722.40 439.20 722.40C443.03 722.40 448.05 723.12 451.60 723.80C455.15 724.48 457.55 726.20 460.50 726.50C463.45 726.80 465.77 725.90 469.30 725.60C472.83 725.30 477.28 724.85 481.70 724.70C486.12 724.55 492.55 724.40 495.80 724.70C499.05 725.00 499.57 725.47 501.20 726.50C502.83 727.53 504.72 729.28 505.60 730.90C506.48 732.52 506.95 734.72 506.50 736.20C506.05 737.68 505.27 738.92 502.90 739.80C500.53 740.68 496.72 740.97 492.30 741.50C487.88 742.03 481.12 742.70 476.40 743.00C471.68 743.30 467.83 743.10 464.00 743.30C460.17 743.50 457.23 743.85 453.40 744.20C449.57 744.55 444.83 745.40 441.00 745.40C437.17 745.40 433.20 744.98 430.40 744.20C427.60 743.42 425.68 742.47 424.20 740.70C422.72 738.93 421.65 735.82 421.50 733.60C421.35 731.38 422.12 729.03 423.30 727.40Z" fill="url(#spIG)" stroke="#7a1526" stroke-width="1.1" filter="url(#bl)"/>
<g filter="url(#bl)"><path d="M429 655 Q440 654.5 452 658 Q468 660 490 658.5" stroke="#8c2a3c" stroke-width="1.6" fill="none" opacity="0.8"/><g filter="url(#bl3)" opacity="0.85"><ellipse cx="439" cy="656.5" rx="5" ry="1.3" fill="#c99aa8"/><ellipse cx="451" cy="658.2" rx="4" ry="1.1" fill="#b98898"/><ellipse cx="463" cy="661" rx="3.5" ry="1.8" fill="#c8a4b4"/><ellipse cx="473" cy="661" rx="5" ry="2.2" fill="#dcc0cc"/><ellipse cx="484" cy="660" rx="5" ry="1.6" fill="#d2b0be"/><ellipse cx="492" cy="659.3" rx="3" ry="1.2" fill="#b88898"/></g><circle cx="429" cy="663" r="0.6" fill="#d8a0b0"/><path d="M346 727.5 Q350 725 354 723.5" stroke="#7068a8" stroke-width="1.8" fill="none"/><path d="M368 716.3 Q376 716.2 383 717.3" stroke="#b8b0d0" stroke-width="0.9" fill="none" opacity="0.7"/><ellipse cx="367.5" cy="718.8" rx="1.4" ry="1.8" fill="#8078b8"/><circle cx="347" cy="732" r="0.6" fill="#d0a0b0"/><path d="M431 730.6 L437 730.2 M439.5 730.2 L447.5 729.6 M462 732.3 L466 732 M468 731.6 L471 730.6" stroke="#f4e8ea" stroke-width="1.1" fill="none"/><circle cx="482" cy="732" r="0.6" fill="#e0c0c8"/><circle cx="350.5" cy="667" r="0.7" fill="#c08090"/><circle cx="361.5" cy="665.5" r="0.6" fill="#c08090"/></g>
<g stroke="#000" stroke-width="1.8"><line x1="326" y1="695" x2="355.4" y2="695"/><line x1="417.3" y1="695.7" x2="448" y2="695.7"/><line x1="325.8" y1="762.3" x2="355.6" y2="762.3"/><line x1="417.3" y1="761.6" x2="448" y2="761.6"/></g>
<text x="331.2" y="691.6" font-size="10">1 cm</text>
<g fill="none" stroke="#000" stroke-width="1.7"><rect x="325" y="630" width="184.5" height="137"/><line x1="417.3" y1="630" x2="417.3" y2="767"/><line x1="325" y1="698.6" x2="509.5" y2="698.6"/></g>
<rect x="0.9" y="0.9" width="518.2" height="812.2" fill="none" stroke="#000" stroke-width="1.8"/>
</svg>
</body></html>
